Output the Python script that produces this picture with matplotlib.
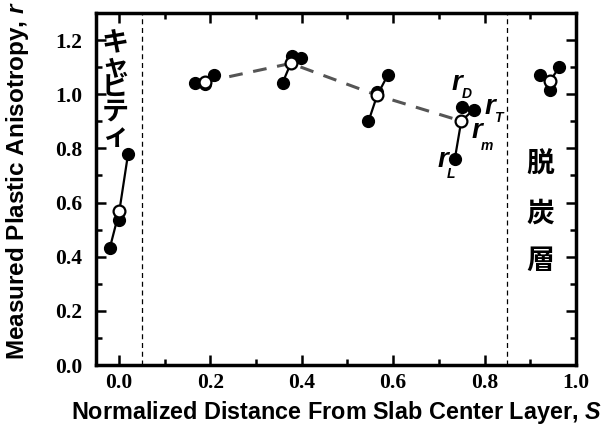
import numpy as np
import matplotlib.pyplot as plt
from matplotlib.ticker import MultipleLocator

plt.rcParams["mathtext.fontset"] = "custom"
plt.rcParams["mathtext.bfit"] = "Liberation Sans:bold:italic"

# --- data ---
# each group: rL, rD, rT (filled) and rm (open)
s_L = [-0.020, 0.167, 0.358, 0.546, 0.735, 0.943]
r_L = [0.432, 1.040, 1.042, 0.900, 0.762, 1.017]
s_D = [0.000, 0.189, 0.379, 0.565, 0.751, 0.921]
r_D = [0.537, 1.037, 1.141, 1.007, 0.953, 1.070]
s_T = [0.020, 0.209, 0.398, 0.588, 0.776, 0.963]
r_T = [0.780, 1.070, 1.134, 1.070, 0.943, 1.099]
s_m = [0.001, 0.189, 0.376, 0.565, 0.749, 0.943]
r_m = [0.570, 1.046, 1.114, 0.996, 0.901, 1.048]

# groups joined by the grey dashed trend line
trend = [1, 2, 3, 4]

xticks = [0.0, 0.2, 0.4, 0.6, 0.8, 1.0]
yticks = [0.0, 0.2, 0.4, 0.6, 0.8, 1.0, 1.2]
bounds = [0.05, 0.85]

SANS = "Liberation Sans"
SERIF = "Liberation Serif"
JP = ["Noto Sans CJK JP", "DejaVu Sans"]

fig = plt.figure(figsize=(6.16, 4.26), dpi=100)
ax = fig.add_axes([0.156, 0.143, 0.779, 0.8265])

# boundaries of surface layers
for b in bounds:
    ax.axvline(b, color="black", lw=0.9, ls=(0, (4, 3)), zorder=1)

# trend through mean values
ax.plot([s_m[i] for i in trend], [r_m[i] for i in trend],
        color="#555555", lw=2.2, ls=(0, (4.5, 3.5)), zorder=2)

# rL - rm - rT connecting lines
for i in range(len(s_m)):
    ax.plot([s_L[i], s_m[i], s_T[i]], [r_L[i], r_m[i], r_T[i]],
            color="black", lw=1.6, zorder=3)

for s, r in ((s_L, r_L), (s_D, r_D), (s_T, r_T)):
    ax.plot(s, r, "o", color="black", ms=8.5, ls="none", zorder=4)
ax.plot(s_m, r_m, "o", mfc="white", mec="black", mew=1.6, ms=8.5,
        ls="none", zorder=5)

# r labels
lab_kw = dict(family=SANS, weight="bold", style="italic", ha="center", va="center")
for txt, sub, xr, yr, xs, ys in (("r", "D", 0.739, 1.041, 0.760, 1.002),
                                 ("r", "T", 0.811, 0.952, 0.830, 0.912),
                                 ("r", "m", 0.783, 0.863, 0.805, 0.809),
                                 ("r", "L", 0.709, 0.759, 0.727, 0.705)):
    ax.text(xr, yr, txt, fontsize=20, **lab_kw)
    ax.text(xs, ys, sub, fontsize=10, **lab_kw)

# japanese region labels
cav = ["キ", "ャ", "ビ", "テ", "ィ"]
cav_y = [1.193, 1.100, 1.026, 0.937, 0.841]
for ch, y in zip(cav, cav_y):
    ax.text(-0.008, y, ch, family=JP, weight="bold", fontsize=19.5,
            ha="center", va="center")
dec = ["脱", "炭", "層"]
dec_y = [0.74, 0.56, 0.385]
for ch, y in zip(dec, dec_y):
    ax.text(0.922, y, ch, family=JP, weight="bold", fontsize=20,
            ha="center", va="center")

ax.set_xlim(-0.05, 1.0)
ax.set_ylim(0.0, 1.3)
ax.set_xticks(xticks)
ax.set_yticks(yticks)
ax.set_xticklabels([f"{v:.1f}" for v in xticks], family=SERIF, weight="bold", fontsize=15.5)
ax.set_yticklabels([f"{v:.1f}" for v in yticks], family=SERIF, weight="bold", fontsize=15.5)
ax.xaxis.set_minor_locator(MultipleLocator(0.1))
ax.yaxis.set_minor_locator(MultipleLocator(0.1))
ax.tick_params(which="both", direction="in", top=True, right=True, width=1.8)
ax.tick_params(which="major", length=7)
ax.tick_params(which="minor", length=4)
ax.tick_params(axis="x", which="major", pad=6)
ax.tick_params(axis="y", which="major", pad=10)
for sp in ax.spines.values():
    sp.set_linewidth(2.5)

ax.set_xlabel("Normalized Distance From Slab Center Layer, $\\mathbfit{S}$",
              family=SANS, weight="bold", fontsize=16.8, labelpad=4)
ax.set_ylabel("Measured Plastic Anisotropy, $\\mathbfit{r}$",
              family=SANS, weight="bold", fontsize=17.5)
ax.yaxis.set_label_coords(-0.135, 0.523)

fig.savefig("out.png", dpi=100)
